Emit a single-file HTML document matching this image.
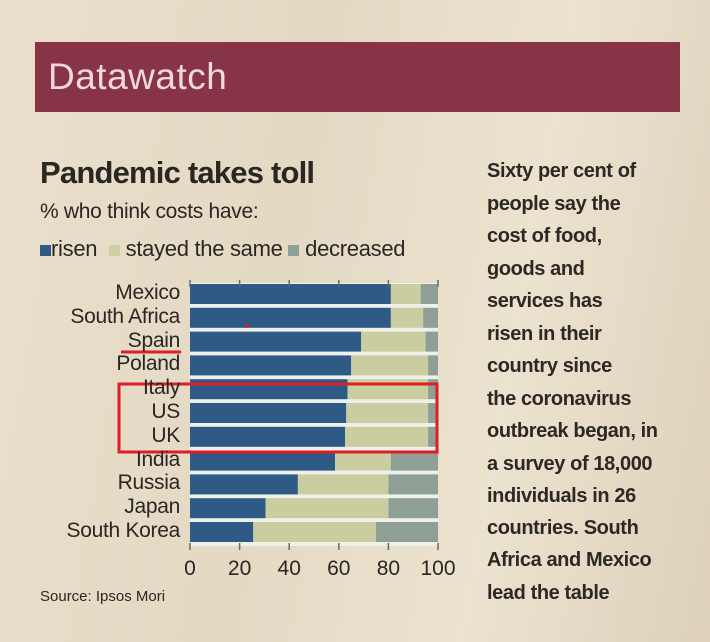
<!DOCTYPE html>
<html><head><meta charset="utf-8"><style>
body{margin:0;width:710px;height:642px;overflow:hidden;background:#e6dcc7;font-family:"Liberation Sans",sans-serif;}
.wrap{position:relative;width:710px;height:642px;background:linear-gradient(100deg,#e9dfcb 0%,#e4d9c3 40%,#ebe2cf 70%,#ddd1ba 100%);}
.band{position:absolute;left:35px;top:42px;width:645px;height:70px;background:#873447;}
.band span{position:absolute;left:13px;top:14px;color:#efd9dc;font-size:37px;letter-spacing:0.5px;}
.t{position:absolute;white-space:nowrap;color:#2a2622;}
.lab{position:absolute;right:530px;font-size:21px;color:#2a2622;text-align:right;white-space:nowrap;letter-spacing:-0.3px;}
.rt{position:absolute;left:487px;font-size:20px;font-weight:bold;color:#2c2824;white-space:nowrap;letter-spacing:-0.4px;}
</style></head><body><div class="wrap">
<div class="band"><span>Datawatch</span></div>
<div class="t" style="left:40px;top:155px;font-size:31px;font-weight:bold;letter-spacing:-0.8px">Pandemic takes toll</div>
<div class="t" style="left:40px;top:200px;font-size:21px;letter-spacing:-0.3px">% who think costs have:</div>
<div class="t" style="left:40px;top:236px;font-size:22px;letter-spacing:-0.3px"><span style="display:inline-block;width:11px;height:11px;background:#2f5a86"></span>risen &nbsp;<span style="display:inline-block;width:11px;height:11px;background:#cdd0a5"></span> stayed the same <span style="display:inline-block;width:11px;height:11px;background:#8fa096"></span> decreased</div>
<svg style="position:absolute;left:0;top:0" width="710" height="642">
<g id="bars"></g>
</svg>
<div id="labs"></div>
<div class="t" style="left:40px;top:588px;font-size:15px">Source: Ipsos Mori</div>
<div class="rt" style="top:160px">Sixty per cent of</div>
<div class="rt" style="top:193px">people say the</div>
<div class="rt" style="top:225px">cost of food,</div>
<div class="rt" style="top:258px">goods and</div>
<div class="rt" style="top:290px">services has</div>
<div class="rt" style="top:323px">risen in their</div>
<div class="rt" style="top:355px">country since</div>
<div class="rt" style="top:388px">the coronavirus</div>
<div class="rt" style="top:420px">outbreak began, in</div>
<div class="rt" style="top:453px">a survey of 18,000</div>
<div class="rt" style="top:485px">individuals in 26</div>
<div class="rt" style="top:517px">countries. South</div>
<div class="rt" style="top:549px">Africa and Mexico</div>
<div class="rt" style="top:582px">lead the table</div>
</div>
<script>
var d=[["Mexico",81,93],["South Africa",81,94],["Spain",69,95],["Poland",65,96],["Italy",63.5,96],["US",63,96],["UK",62.5,96],["India",58.5,81],["Russia",43.5,80],["Japan",30.5,80],["South Korea",25.5,75]];
var x0=190,k=2.48,y0=284,p=23.8,s="",h="";
s+='<rect x="190" y="283" width="248" height="263" fill="#eef0ea"/>';
d.forEach(function(r,i){var y=y0+i*p;
s+='<rect x="'+x0+'" y="'+y+'" width="'+r[1]*k+'" height="20" fill="#2f5a86"/>';
s+='<rect x="'+(x0+r[1]*k)+'" y="'+y+'" width="'+(r[2]-r[1])*k+'" height="20" fill="#c9cda0"/>';
s+='<rect x="'+(x0+r[2]*k)+'" y="'+y+'" width="'+(100-r[2])*k+'" height="20" fill="#8e9f96"/>';
h+='<div class="lab" style="top:'+(y-3)+'px">'+r[0]+'</div>';});
for(var t=0;t<=100;t+=20){var x=x0+t*k;s+='<line x1="'+x+'" y1="280" x2="'+x+'" y2="287" stroke="#6a6a60" stroke-width="1.5"/><line x1="'+x+'" y1="543" x2="'+x+'" y2="550" stroke="#6a6a60" stroke-width="1.5"/>';
s+='<text x="'+x+'" y="575" font-size="21" text-anchor="middle" fill="#2a2622" font-family="Liberation Sans">'+t+'</text>';}
s+='<line x1="121" y1="352" x2="181" y2="352" stroke="#e01c25" stroke-width="3"/>';
s+='<rect x="119" y="384" width="318" height="68" fill="none" stroke="#e01c25" stroke-width="3"/>';
s+='<circle cx="247" cy="326" r="2" fill="#e01c25"/>';
document.getElementById("bars").innerHTML=s;document.getElementById("labs").innerHTML=h;
</script>
</body></html>
